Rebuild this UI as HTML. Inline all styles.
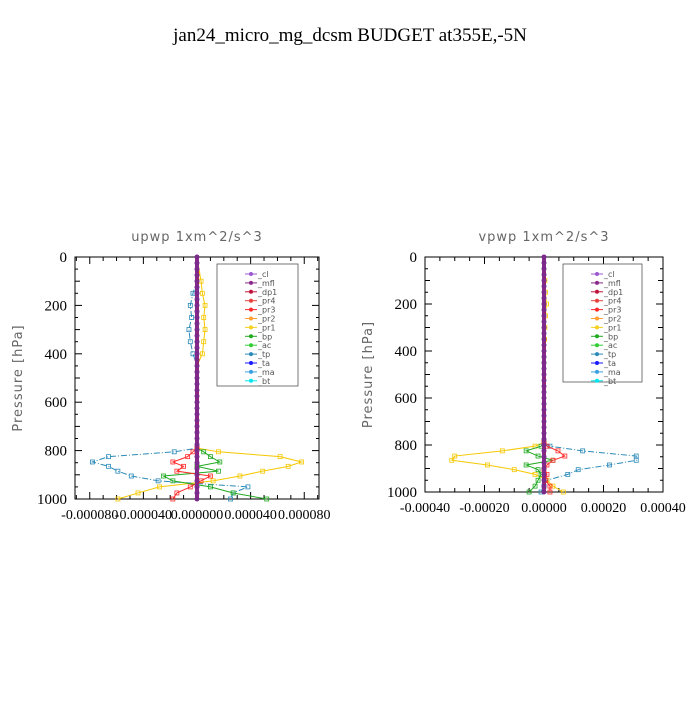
<!DOCTYPE html>
<html><head><meta charset="utf-8"><style>
body{margin:0;background:#fff;width:700px;height:700px;overflow:hidden}
svg text{font-family:"Liberation Serif",serif}
.sub{font-family:"DejaVu Sans","Liberation Sans",sans-serif;fill:#666;font-size:13px;letter-spacing:1px}
.leg{font-family:"DejaVu Sans","Liberation Sans",sans-serif;font-size:8px;fill:#555}
</style></head><body>
<svg id="chart" width="700" height="700">
<text x="350" y="41" text-anchor="middle" font-size="19">jan24_micro_mg_dcsm  BUDGET at355E,-5N</text>
</svg>
<script>
// pressure levels (hPa)
const levels = [0,100,150,200,250,300,350,400,450,500,600,700,790,805,825,847,865,885,905,925,950,975,1000];
// upwp series (units of 1e-5)
const upTp  = [0,0,-0.3,-0.5,-0.4,-0.6,-0.5,-0.3,0,0,0,0,0,-1.7,-6.6,-7.8,-6.6,-5.9,-4.9,-2.9,3.8,2.7,2.5];
const upPr1 = [0,0.3,0.4,0.6,0.5,0.6,0.5,0.4,0,0,0,0,0,1.6,6.2,7.8,6.8,4.9,3.2,1.2,-2.8,-4.4,-5.9];
const upBp  = [0,0,0,0,0,0,0,0,0,0,0,0,0,0.5,1,1.7,0,1.6,-2.5,-1.8,1,2.7,5.2];
const upPr3 = [0,0,0,0,0,0,0,0,0,0,0,0,0,-0.3,-0.7,-1.8,-1,-1.5,1,0.3,-0.5,-1.5,-1.8];
// vpwp series (units of 1e-5)
const vpTp  = [0,0,0,0,0,0,0,0,0,0,0,0,0,2,13,31,31,22,11.5,8,1,0,-1];
const vpPr1 = [0,0.3,0.5,0.8,0.5,0.3,0.2,0,0,0,0,0,0,-3,-14,-30,-31,-19,-10,-3,1,3,6.5];
const vpBp  = [0,0,0,0,0,0,0,0,0,0,0,0,0,-1,-6,-2,3,-6,-2,-1,-2,-3,-5];
const vpPr3 = [0,0,0,0,0,0,0,0,0,0,0,0,0,1,4.7,7,3,1,0,1,0.5,2,2];
const legendNames = ["_cl","_mfl","_dp1","_pr4","_pr3","_pr2","_pr1","_bp","_ac","_tp","_ta","_ma","_bt"];
const legendColors = ["#9b59d0","#8b2a8b","#c0143c","#e8403c","#ff2a2a","#ffa030","#f5d020","#22aa22","#33cc33","#2a8ab8","#1a1aff","#3aa0e0","#00e5ee"];
const upTicks = ["-0.000080","-0.000040","0.000000","0.000040","0.000080"];
const upTickVals = [-8,-4,0,4,8];
const vpTicks = ["-0.00040","-0.00020","0.00000","0.00020","0.00040"];
const vpTickVals = [-40,-20,0,20,40];
const yTicks = [0,200,400,600,800,1000];

const NS="http://www.w3.org/2000/svg";
const svg=document.getElementById('chart');
function mk(tag,attrs,parent){const e=document.createElementNS(NS,tag);for(const k in attrs)e.setAttribute(k,attrs[k]);(parent||svg).appendChild(e);return e;}

function panel(cfg){
  const g=mk('g',{});
  
  
  const {x0,x1,y0,y1,xmin,xmax}=cfg;
  const X=v=>x0+(v-xmin)/(xmax-xmin)*(x1-x0);
  const Y=p=>y0+p/1000*(y1-y0);
  const t=mk('text',{x:(x0+x1)/2,y:241,'text-anchor':'middle',class:'sub'},g);t.textContent=cfg.title;
  
  
  const fr=mk('rect',{x:x0,y:y0,width:x1-x0,height:y1-y0,fill:'none',stroke:'#000','stroke-width':1},g);
  
  
  // y ticks
  for(let p=0;p<=1000;p+=50){
    const maj=p%200===0, len=maj?7:(p%100===0?5:3);
    mk('line',{x1:x0,x2:x0+len,y1:Y(p),y2:Y(p),stroke:'#000'},g);
    mk('line',{x1:x1,x2:x1-len,y1:Y(p),y2:Y(p),stroke:'#000'},g);
  }
  yTicks.forEach(p=>{const l=mk('text',{x:x0-8,y:Y(p)+5,'text-anchor':'end','font-size':15},g);l.textContent=p;
    
    });
  // x ticks
  const step=cfg.minor;
  for(let v=Math.ceil(xmin/step)*step;v<=xmax+1e-9;v+=step){
    const isMaj=Math.abs(Math.round(v/cfg.major)*cfg.major-v)<1e-6;const len=isMaj?7:4;
    mk('line',{x1:X(v),x2:X(v),y1:y0,y2:y0+len,stroke:'#000'},g);
    mk('line',{x1:X(v),x2:X(v),y1:y1,y2:y1-len,stroke:'#000'},g);
  }
  cfg.tickVals.forEach((v,i)=>{const l=mk('text',{x:X(v),y:y1+20,'text-anchor':'middle','font-size':14},g);l.textContent=cfg.tickLabels[i];
    
    });
  const yl=mk('text',{x:0,y:0,'text-anchor':'middle',class:'sub',transform:`translate(${x0-53},${(y0+y1)/2}) rotate(-90)`},g);yl.textContent='Pressure [hPa]';
  
  
  // series
  cfg.series.forEach(s=>{
    const pts=s.vals.map((v,i)=>X(v)+','+Y(levels[i])).join(' ');
    const pl=mk('polyline',{points:pts,fill:'none',stroke:s.color,'stroke-width':1,'stroke-dasharray':s.dash||''},g);
    
    
    s.vals.forEach((v,i)=>{if(levels[i]>=780||v!==0){mk('rect',{x:X(v)-2,y:Y(levels[i])-2,width:4,height:4,fill:'none',stroke:s.color,'stroke-width':0.8},g);}});
  });
  // thick central profile
  const c=mk('line',{x1:X(0),x2:X(0),y1:y0,y2:y1,stroke:'#8b2a8b','stroke-width':4},g);
  
  
  mk('line',{x1:X(0)+1,x2:X(0)+1,y1:y0,y2:y1,stroke:'#c0143c','stroke-width':1,'stroke-dasharray':'2 3'},g);
  for(let p=0;p<=1000;p+=25) mk('circle',{cx:X(0),cy:Y(p),r:2.5,fill:'#7a2a8a'},g);
  // legend
  const L=cfg.leg;
  const lb=mk('rect',{x:L.x,y:L.y,width:L.w,height:L.h,fill:'#fff',stroke:'#555','stroke-width':0.8},g);
  
  
  legendNames.forEach((n,i)=>{
    const yy=L.y+10+i*8.9;
    mk('line',{x1:L.x+28,x2:L.x+40,y1:yy,y2:yy,stroke:legendColors[i]},g);
    mk('circle',{cx:L.x+34,cy:yy,r:2,fill:legendColors[i]},g);
    const tt=mk('text',{x:L.x+41,y:yy+3,class:'leg'},g);tt.textContent=n;
    
    
  });
}
const ser=(tp,pr1,bp,pr3)=>[
  {name:'tp',vals:tp,color:'#2a8ab8',dash:'6 2 1 2'},
  {name:'pr1',vals:pr1,color:'#f5c800'},
  {name:'bp',vals:bp,color:'#22aa22'},
  {name:'pr3',vals:pr3,color:'#ff2a2a'}];
panel({name:'upwp-panel',title:'upwp   1xm^2/s^3',x0:75,x1:319,y0:257,y1:499,xmin:-9.1,xmax:9.1,major:4,minor:1,
  tickVals:upTickVals,tickLabels:upTicks,series:ser(upTp,upPr1,upBp,upPr3),leg:{x:217,y:264,w:81,h:122}});
panel({name:'vpwp-panel',title:'vpwp   1xm^2/s^3',x0:425,x1:663,y0:257,y1:492,xmin:-40,xmax:40,major:20,minor:5,
  tickVals:vpTickVals,tickLabels:vpTicks,series:ser(vpTp,vpPr1,vpBp,vpPr3),leg:{x:563,y:264,w:79,h:118}});
</script>
</body></html>
